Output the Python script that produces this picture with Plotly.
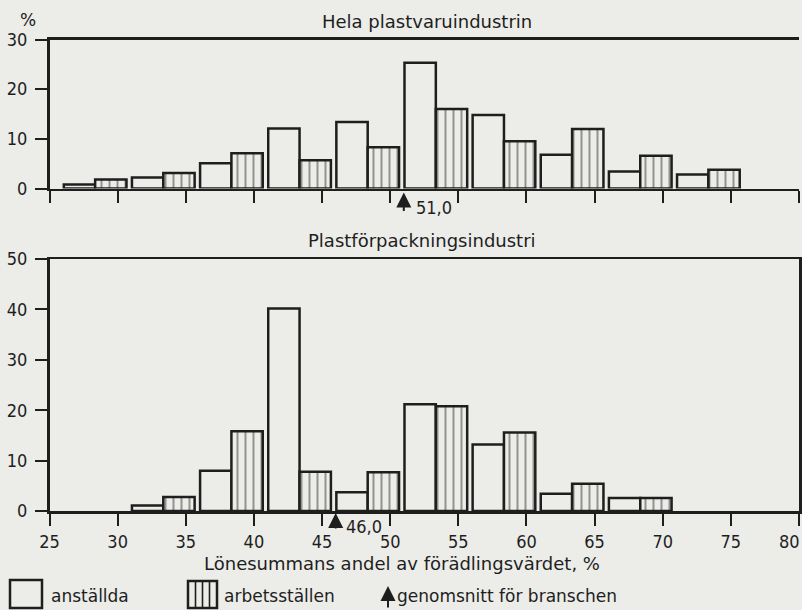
import numpy as np
import plotly.graph_objects as go

# ---------------- data ----------------
bins_top = [25, 30, 35, 40, 45, 50, 55, 60, 65, 70]
top_anstallda = [0.8, 2.2, 5.1, 12.1, 13.4, 25.3, 14.8, 6.8, 3.4, 2.8]
top_arbetsstallen = [1.8, 3.1, 7.1, 5.7, 8.3, 16.0, 9.5, 12.0, 6.6, 3.8]
top_mean = 51.0
top_mean_label = "51,0"

bins_low = [30, 35, 40, 45, 50, 55, 60, 65]
low_anstallda = [1.1, 8.0, 40.2, 3.7, 21.2, 13.2, 3.4, 2.6]
low_arbetsstallen = [2.8, 15.8, 7.8, 7.7, 20.8, 15.6, 5.4, 2.6]
low_mean = 46.0
low_mean_label = "46,0"

x_ticks = [25, 30, 35, 40, 45, 50, 55, 60, 65, 70, 75, 80]
y_ticks_top = [0, 10, 20, 30]
y_ticks_low = [0, 10, 20, 30, 40, 50]

title_top = "Hela plastvaruindustrin"
title_low = "Plastförpackningsindustri"
x_title = "Lönesummans andel av förädlingsvärdet, %"
y_unit = "%"
legend_labels = ["anställda", "arbetsställen", "genomsnitt för branschen"]

# ---------------- style ----------------
W, H = 802, 610
BG = "#ecece8"
INK = "#1e1e1e"
LW = 2.5
PLAIN_OFF, HATCH_OFF, BAR_W = 2.2, 4.5, 2.3
NUM_FONT = dict(family="Liberation Sans Narrow, DejaVu Sans Condensed, sans-serif", size=18, color=INK)
TXT_FONT = dict(family="DejaVu Sans, sans-serif", size=18, color=INK)


def px(x):
    return x / W


def py(y):
    return 1 - y / H


XDOM = [px(49.5), px(799)]

fig = go.Figure()


def add_panel(bins, a, b, xa, ya):
    bins = np.array(bins, dtype=float)
    fig.add_trace(go.Bar(
        x=bins + PLAIN_OFF, y=a, width=BAR_W, xaxis=xa, yaxis=ya,
        marker=dict(color=BG, line=dict(color=INK, width=LW)),
        showlegend=False, hoverinfo="skip"))
    fig.add_trace(go.Bar(
        x=bins + HATCH_OFF, y=b, width=BAR_W, xaxis=xa, yaxis=ya,
        marker=dict(color=BG, line=dict(color=INK, width=LW),
                    pattern=dict(shape="|", fgcolor=INK, bgcolor=BG, size=8, solidity=0.22)),
        showlegend=False, hoverinfo="skip"))


add_panel(bins_top, top_anstallda, top_arbetsstallen, "x", "y")
add_panel(bins_low, low_anstallda, low_arbetsstallen, "x2", "y2")

common_x = dict(range=[25, 80], domain=XDOM, tickmode="array", tickvals=x_ticks,
                ticks="outside", ticklen=12, tickwidth=2, tickcolor=INK,
                showline=True, linewidth=LW, linecolor=INK, mirror=True,
                showgrid=False, zeroline=False, fixedrange=True, automargin=False)
common_y = dict(tickmode="array", ticks="outside", ticklen=12, tickwidth=2, tickcolor=INK,
                showline=True, linewidth=LW, linecolor=INK,
                showgrid=False, zeroline=False, tickfont=NUM_FONT, fixedrange=True,
                ticklabelstandoff=4, automargin=False)

# the last tick label sits at the page edge: it is drawn as an annotation shifted inwards
x_ticktext = [str(v) for v in x_ticks[:-1]] + [""]

fig.update_layout(
    width=W, height=H,
    margin=dict(l=0, r=0, t=0, b=0, autoexpand=False),
    paper_bgcolor=BG, plot_bgcolor=BG,
    barmode="overlay", bargap=0,
    xaxis=dict(common_x, anchor="y", showticklabels=False),
    yaxis=dict(common_y, anchor="x", domain=[py(188.5), py(39.5)], range=[0, 30],
               tickvals=y_ticks_top, ticktext=[str(v) for v in y_ticks_top], mirror=False),
    xaxis2=dict(common_x, anchor="y2", showticklabels=True, tickfont=NUM_FONT,
                ticktext=x_ticktext, ticklabelstandoff=1),
    yaxis2=dict(common_y, anchor="x2", domain=[py(511), py(259)], range=[0, 50],
                tickvals=y_ticks_low, ticktext=[str(v) for v in y_ticks_low], mirror=True),
)

ann = []
ann.append(dict(text=str(x_ticks[-1]), x=x_ticks[-1], y=py(541), xref="x2", yref="paper",
                showarrow=False, font=NUM_FONT, xanchor="right", yanchor="middle", xshift=3))
# panel titles and labels
ann.append(dict(text=title_top, x=px(427), y=py(21), xref="paper", yref="paper",
                showarrow=False, font=TXT_FONT, xanchor="center", yanchor="middle"))
ann.append(dict(text=title_low, x=px(422), y=py(240), xref="paper", yref="paper",
                showarrow=False, font=TXT_FONT, xanchor="center", yanchor="middle"))
ann.append(dict(text=y_unit, x=px(28), y=py(20), xref="paper", yref="paper",
                showarrow=False, font=dict(TXT_FONT, size=17), xanchor="center", yanchor="middle"))
ann.append(dict(text=x_title, x=px(402), y=py(563), xref="paper", yref="paper",
                showarrow=False, font=TXT_FONT, xanchor="center", yanchor="middle"))

ARROW = dict(arrowhead=2, arrowsize=1.5, arrowwidth=2, arrowcolor=INK)
# mean arrows
ann.append(dict(text="", x=top_mean, y=0, xref="x", yref="y", showarrow=True,
                ax=0, ay=24, standoff=4, **ARROW))
ann.append(dict(text=top_mean_label, x=top_mean, y=0, xref="x", yref="y", showarrow=False,
                xanchor="left", yanchor="middle", xshift=10, yshift=-19,
                font=dict(NUM_FONT, size=18)))
ann.append(dict(text="", x=low_mean, y=0, xref="x2", yref="y2", showarrow=True,
                ax=0, ay=19, standoff=2, **ARROW))
ann.append(dict(text=low_mean_label, x=low_mean, y=0, xref="x2", yref="y2", showarrow=False,
                xanchor="left", yanchor="middle", xshift=8, yshift=-15,
                font=dict(NUM_FONT, size=18)))

# legend
LEG_FONT = dict(TXT_FONT, size=17)
ann.append(dict(text=legend_labels[0], x=px(49), y=py(596), xref="paper", yref="paper",
                showarrow=False, font=LEG_FONT, xanchor="left", yanchor="middle"))
ann.append(dict(text=legend_labels[1], x=px(222), y=py(596), xref="paper", yref="paper",
                showarrow=False, font=LEG_FONT, xanchor="left", yanchor="middle"))
ann.append(dict(text="", x=px(388), y=py(586), xref="paper", yref="paper", showarrow=True,
                ax=0, ay=23, **ARROW))
ann.append(dict(text=legend_labels[2], x=px(395), y=py(596), xref="paper", yref="paper",
                showarrow=False, font=LEG_FONT, xanchor="left", yanchor="middle"))
fig.update_layout(annotations=ann)

shapes = [
    dict(type="rect", xref="paper", yref="paper", x0=px(10), x1=px(42), y0=py(608), y1=py(580),
         line=dict(color=INK, width=LW), fillcolor=BG),
    dict(type="rect", xref="paper", yref="paper", x0=px(188), x1=px(217), y0=py(608), y1=py(581),
         line=dict(color=INK, width=LW), fillcolor=BG),
]
for xx in (195.5, 202.5, 209.5):
    shapes.append(dict(type="line", xref="paper", yref="paper", x0=px(xx), x1=px(xx),
                       y0=py(608), y1=py(581), line=dict(color=INK, width=1.6)))
fig.update_layout(shapes=shapes)

fig.write_html(
    "out.html",
    config={"displayModeBar": False, "staticPlot": True},
    post_script="document.body.style.margin='0';document.body.style.background='%s';"
                "document.documentElement.style.overflow='hidden';" % BG,
)
